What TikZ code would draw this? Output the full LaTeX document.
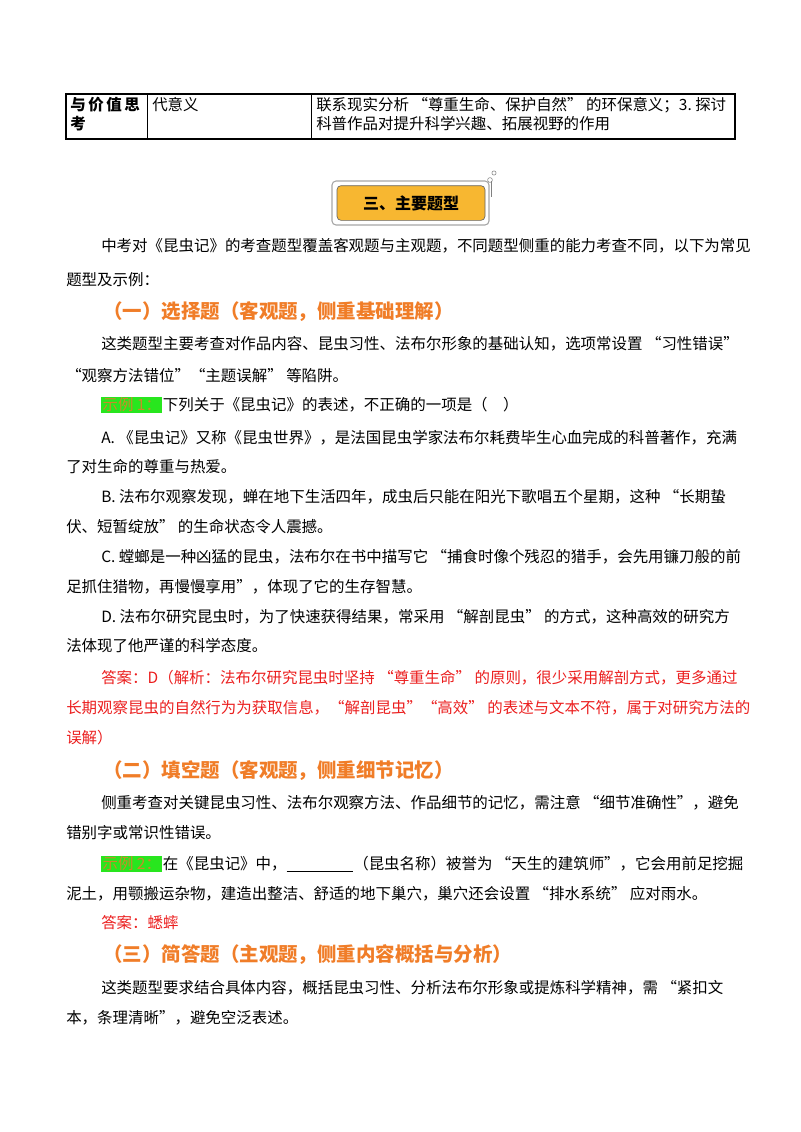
\documentclass[tikz,border=0pt]{standalone}
\usepackage{fontspec}
\setmainfont{Noto Sans CJK SC}
\definecolor{headorange}{RGB}{240,125,40}
\definecolor{bannerfill}{RGB}{247,183,49}
\definecolor{tagorange}{RGB}{200,140,40}
\definecolor{taggreen}{RGB}{40,230,30}
\definecolor{ansred}{RGB}{235,30,30}
\tikzset{
  ln/.style={anchor=west, inner sep=0pt, font=\fontsize{11.6}{14}\selectfont},
  head/.style={anchor=west, inner sep=0pt, text=headorange, font=\fontsize{14.6}{18}\selectfont\bfseries},
  ans/.style={ln, text=ansred},
  tag/.style={anchor=west, inner sep=1pt, fill=taggreen, text=tagorange, font=\fontsize{11.6}{14}\selectfont},
  cell/.style={anchor=west, inner sep=0pt, font=\fontsize{11.6}{14}\selectfont}
}
\begin{document}
\begin{tikzpicture}[x=0.75pt,y=-0.75pt]
\useasboundingbox (0,0) rectangle (800,1132);
% table row
\draw[line width=0.8pt] (66,94) rectangle (735,139);
\draw[line width=0.6pt] (147,94) -- (147,139) (311,94) -- (311,139);
\node[cell, font=\fontsize{11.6}{14}\selectfont\bfseries] (c1a) at (70,105) {与\,价\,值\,思};
\node[cell, font=\fontsize{11.6}{14}\selectfont\bfseries] (c1b) at (70,124) {考};
\node[cell] (c2) at (152,105) {代意义};
\node[cell] (c3a) at (316,105) {联系现实分析 “尊重生命、保护自然” 的环保意义；3.\ 探讨};
\node[cell] (c3b) at (316,124) {科普作品对提升科学兴趣、拓展视野的作用};
% banner
\draw[gray!70, line width=0.8pt, rounded corners=3pt, fill=white] (332,181) rectangle (489,225);
\node[draw=black!60, line width=0.5pt, rounded corners=3pt, fill=bannerfill, minimum width=111pt, minimum height=26pt, font=\fontsize{12}{15}\selectfont\bfseries] (banner) at (411,203) {三、主要题型};
\draw[gray] (491,181) -- (491,197);
\draw[gray] (490,180) circle (1.8pt) (494,173) circle (1.6pt);
% body
\node[ln] (p1) at (101,246) {中考对《昆虫记》的考查题型覆盖客观题与主观题，不同题型侧重的能力考查不同，以下为常见};
\node[ln] (p2) at (66,280) {题型及示例：};
\node[head] (h1) at (103,312) {（一）选择题（客观题，侧重基础理解）};
\node[ln] (p3) at (101,344) {这类题型主要考查对作品内容、昆虫习性、法布尔形象的基础认知，选项常设置 “习性错误”};
\node[ln] (p4) at (66,376) {“观察方法错位”“主题误解” 等陷阱。};
\node[tag] (t1) at (101,405) {示例 1：};
\node[ln, anchor=west] (q1) at (t1.east) {下列关于《昆虫记》的表述，不正确的一项是（　）};
\node[ln] (a1) at (101,438) {A.\ 《昆虫记》又称《昆虫世界》，是法国昆虫学家法布尔耗费毕生心血完成的科普著作，充满};
\node[ln] (a2) at (66,467) {了对生命的尊重与热爱。};
\node[ln] (b1) at (101,497) {B.\ 法布尔观察发现，蝉在地下生活四年，成虫后只能在阳光下歌唱五个星期，这种 “长期蛰};
\node[ln] (b2) at (66,527) {伏、短暂绽放” 的生命状态令人震撼。};
\node[ln] (cc1) at (101,557) {C.\ 螳螂是一种凶猛的昆虫，法布尔在书中描写它 “捕食时像个残忍的猎手，会先用镰刀般的前};
\node[ln] (cc2) at (66,587) {足抓住猎物，再慢慢享用”，体现了它的生存智慧。};
\node[ln] (d1) at (101,617) {D.\ 法布尔研究昆虫时，为了快速获得结果，常采用 “解剖昆虫” 的方式，这种高效的研究方};
\node[ln] (d2) at (66,646) {法体现了他严谨的科学态度。};
\node[ans] (r1) at (101,678) {答案：D（解析：法布尔研究昆虫时坚持 “尊重生命” 的原则，很少采用解剖方式，更多通过};
\node[ans] (r2) at (66,708) {长期观察昆虫的自然行为为获取信息，“解剖昆虫”“高效” 的表述与文本不符，属于对研究方法的};
\node[ans] (r3) at (66,738) {误解）};
\node[head] (h2) at (103,771) {（二）填空题（客观题，侧重细节记忆）};
\node[ln] (p5) at (101,803) {侧重考查对关键昆虫习性、法布尔观察方法、作品细节的记忆，需注意 “细节准确性”，避免};
\node[ln] (p6) at (66,833) {错别字或常识性错误。};
\node[tag] (t2) at (101,864) {示例 2：};
\node[ln, anchor=west] (q2) at (t2.east) {在《昆虫记》中，\underline{\hspace{50pt}}（昆虫名称）被誉为 “天生的建筑师”，它会用前足挖掘};
\node[ln] (q3) at (66,894) {泥土，用颚搬运杂物，建造出整洁、舒适的地下巢穴，巢穴还会设置 “排水系统” 应对雨水。};
\node[ans] (r4) at (101,923) {答案：蟋蟀};
\node[head] (h3) at (103,955) {（三）简答题（主观题，侧重内容概括与分析）};
\node[ln] (p7) at (101,988) {这类题型要求结合具体内容，概括昆虫习性、分析法布尔形象或提炼科学精神，需 “紧扣文};
\node[ln] (p8) at (66,1018) {本，条理清晰”，避免空泛表述。};
\end{tikzpicture}
\end{document}
